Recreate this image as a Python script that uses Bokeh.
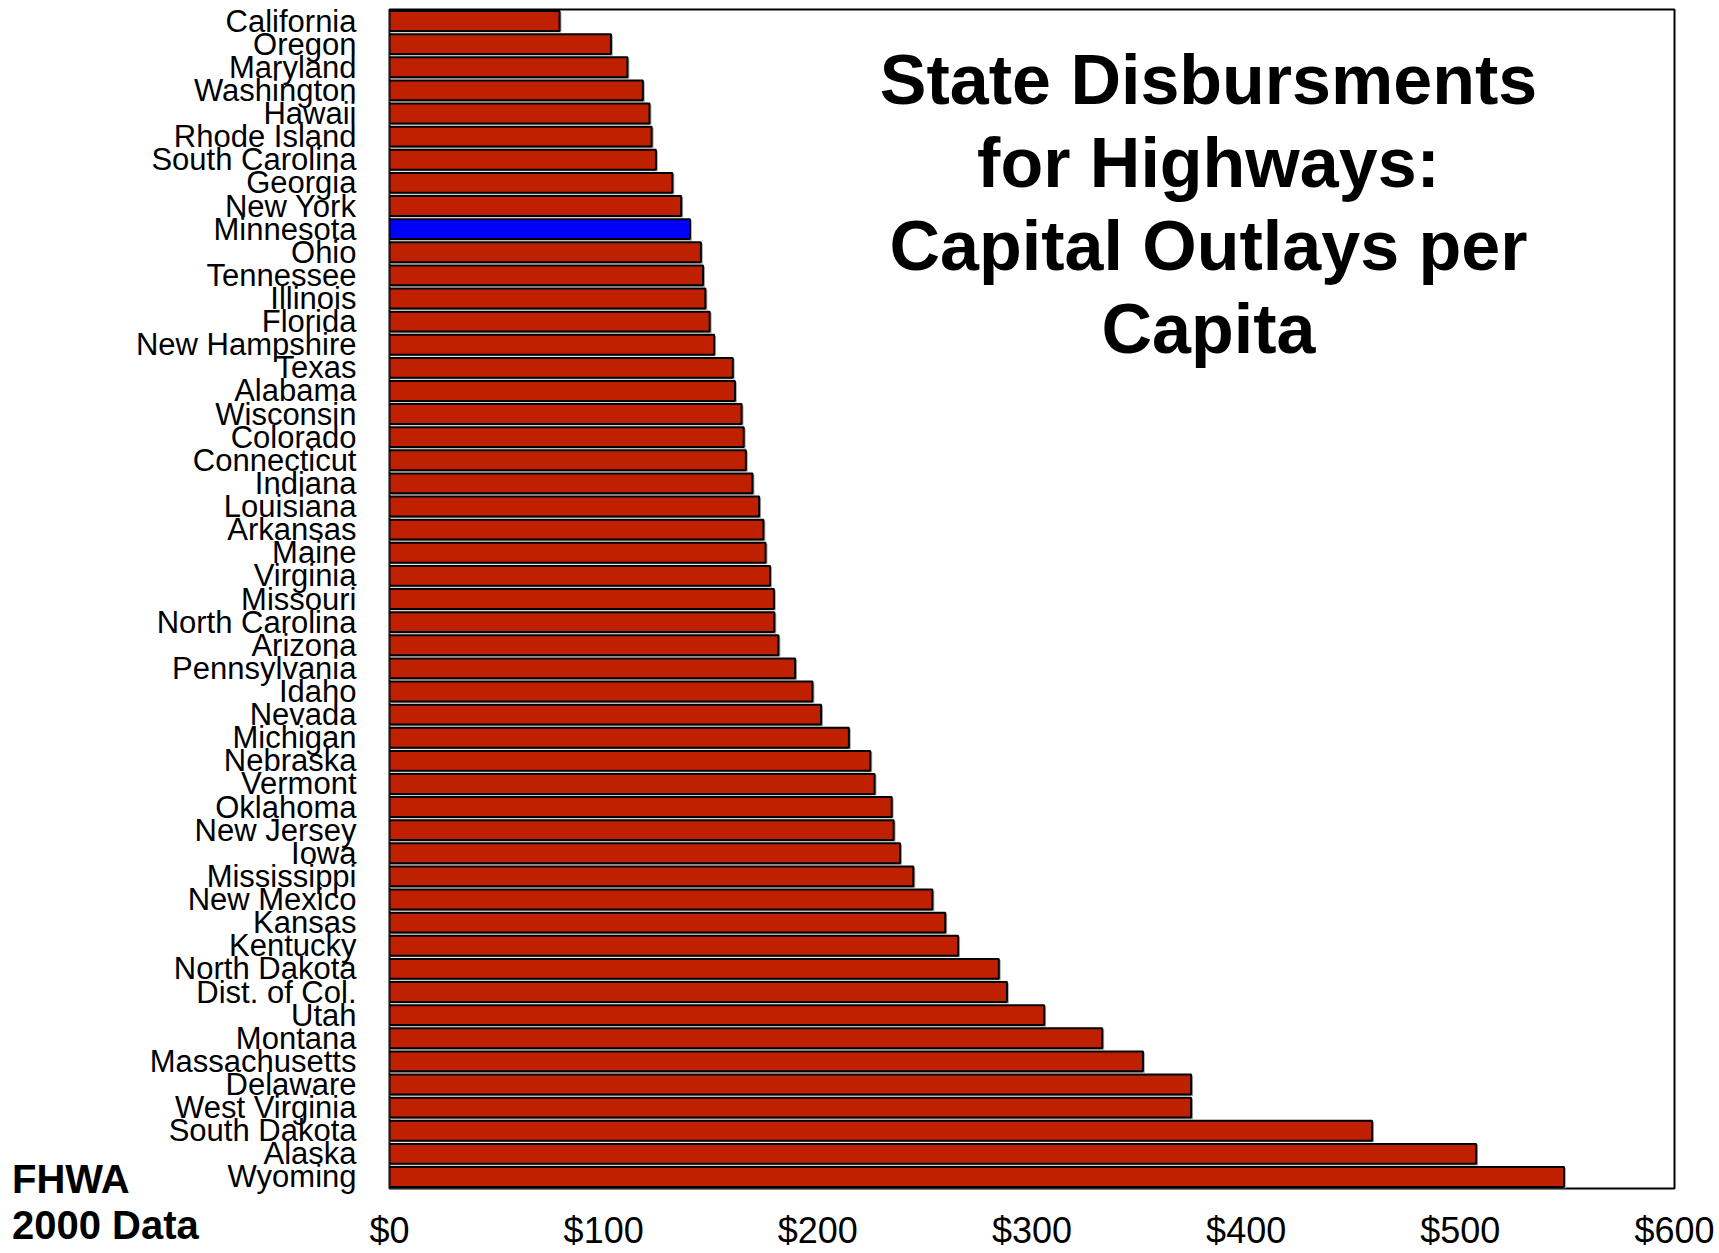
from bokeh.plotting import figure
from bokeh.models import FactorRange, FixedTicker, Label, ColumnDataSource, Div
from bokeh.layouts import column
from bokeh.transform import dodge
from bokeh.embed import file_html
from bokeh.resources import INLINE

states = ["California", "Oregon", "Maryland", "Washington", "Hawaii", "Rhode Island",
          "South Carolina", "Georgia", "New York", "Minnesota", "Ohio", "Tennessee",
          "Illinois", "Florida", "New Hampshire", "Texas", "Alabama", "Wisconsin",
          "Colorado", "Connecticut", "Indiana", "Louisiana", "Arkansas", "Maine",
          "Virginia", "Missouri", "North Carolina", "Arizona", "Pennsylvania", "Idaho",
          "Nevada", "Michigan", "Nebraska", "Vermont", "Oklahoma", "New Jersey", "Iowa",
          "Mississippi", "New Mexico", "Kansas", "Kentucky", "North Dakota",
          "Dist. of Col.", "Utah", "Montana", "Massachusetts", "Delaware",
          "West Virginia", "South Dakota", "Alaska", "Wyoming"]
outlays = [79.4, 103.4, 111.1, 118.3, 121.4, 122.4, 124.4, 132.1, 136.2, 140.3, 145.4,
           146.4, 147.5, 149.5, 151.6, 160.3, 161.3, 164.4, 165.4, 166.4, 169.5, 172.6,
           174.6, 175.6, 177.7, 179.5, 179.7, 181.6, 189.4, 197.5, 201.5, 214.5, 224.5,
           226.5, 234.5, 235.4, 238.4, 244.6, 253.5, 259.5, 265.5, 284.5, 288.3, 305.7,
           332.8, 351.8, 374.3, 374.3, 458.8, 507.4, 548.4]
highlight = "Minnesota"
x_ticks = [0, 100, 200, 300, 400, 500, 600]
x_tick_labels = ["$0", "$100", "$200", "$300", "$400", "$500", "$600"]
title_lines = ["State Disbursments", "for Highways:", "Capital Outlays per", "Capita"]
note_lines = ["FHWA", "2000 Data"]

RED = "#BE2000"
BLUE = "#0000FF"
colors = [BLUE if s == highlight else RED for s in states]
shadow_right = [v + 0.9 for v in outlays]

src = ColumnDataSource(dict(state=states, value=outlays, color=colors, sright=shadow_right))

FONT = "'Liberation Sans', Arial, sans-serif"

p = figure(width=1719, height=1253, output_backend="svg", toolbar_location=None,
           y_range=FactorRange(factors=list(reversed(states)), range_padding=0),
           x_range=(0, 600))
p.min_border_left = 389
p.min_border_right = 45
p.min_border_top = 9
p.min_border_bottom = 61

p.hbar(y=dodge("state", -0.06, range=p.y_range), left=0, right="sright", height=0.88,
       source=src, fill_color="#A8A8A8", line_color=None)
p.hbar(y="state", left=0, right="value", height=0.86, source=src,
       fill_color="color", line_color="black", line_width=2)

p.grid.visible = False
p.outline_line_color = "black"
p.outline_line_width = 2
p.background_fill_color = "white"
p.border_fill_color = "white"

p.yaxis.axis_line_color = None
p.yaxis.major_tick_line_color = None
p.yaxis.minor_tick_line_color = None
p.yaxis.major_tick_out = 0
p.yaxis.major_label_standoff = 33
p.yaxis.major_label_text_font = FONT
p.yaxis.major_label_text_font_size = "31px"
p.yaxis.major_label_text_color = "black"

p.xaxis.ticker = FixedTicker(ticks=x_ticks)
p.xaxis.major_label_overrides = {t: l for t, l in zip(x_ticks, x_tick_labels)}
p.xaxis.axis_line_color = None
p.xaxis.major_tick_line_color = None
p.xaxis.minor_tick_line_color = None
p.xaxis.major_tick_out = 0
p.xaxis.major_label_standoff = 21
p.xaxis.major_label_text_font = FONT
p.xaxis.major_label_text_font_size = "36px"
p.xaxis.major_label_text_color = "black"

frame_h = 1183
for i, line in enumerate(title_lines):
    p.add_layout(Label(x=819, y=frame_h - 74 - 83 * i, x_units="screen", y_units="screen",
                       text=line, text_align="center", text_baseline="alphabetic",
                       text_font=FONT, text_font_style="bold", text_font_size="70px",
                       text_color="black"))

note = Div(
    text="<div style=\"font-family: 'Liberation Sans', Arial, sans-serif; font-weight: bold; "
         "font-size: 40px; line-height: 46px; color: black; margin: 0; padding: 0;\">"
         + "<br>".join(note_lines) + "</div>",
    width=300, height=92,
    styles={"position": "absolute", "left": "12px", "top": "1156px", "margin": "0",
            "padding": "0", "overflow": "hidden"})

page = column(p, note)
open("out.html", "w").write(file_html(page, INLINE))
